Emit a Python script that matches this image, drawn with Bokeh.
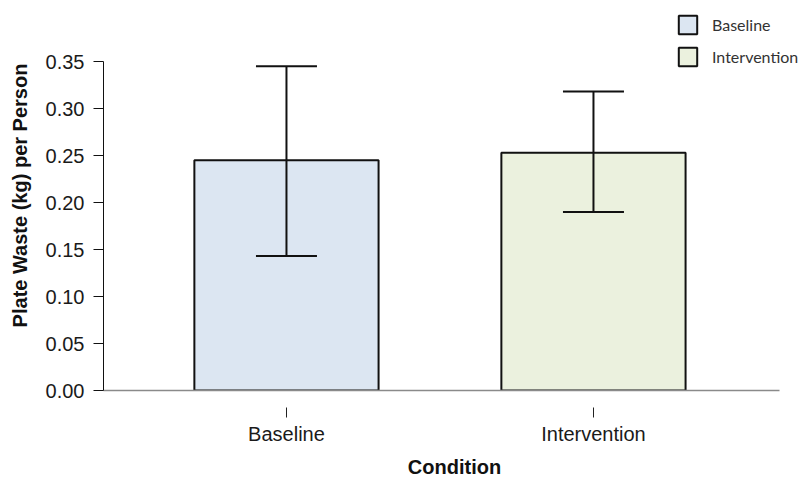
from bokeh.plotting import figure
from bokeh.models import (ColumnDataSource, Range1d, FixedTicker, Whisker, TeeHead,
                          Legend, LegendItem, CustomJSTickFormatter)
from bokeh.embed import file_html
from bokeh.resources import INLINE

categories = ["Baseline", "Intervention"]
means = [0.245, 0.253]
err_lower = [0.143, 0.190]
err_upper = [0.345, 0.318]
colors = ["#dce6f2", "#ebf1de"]
y_ticks = [0.0, 0.05, 0.10, 0.15, 0.20, 0.25, 0.30, 0.35]
y_max = 0.35

xs = list(range(len(categories)))
src = ColumnDataSource(dict(x=xs, top=means, lower=err_lower, upper=err_upper,
                            color=colors, cat=categories))

# frame spans the canvas top/right so the legend is not clipped;
# axis bounds keep the axis lines where the reference draws them
x_start, x_end_axis = -0.596, 1.606
px_per_unit = 307.0
x_end = x_start + 702 / px_per_unit
y_top = y_max * 390 / 329

p = figure(frame_width=702, frame_height=390, output_backend="svg", toolbar_location=None,
           x_range=Range1d(x_start, x_end), y_range=Range1d(0, y_top),
           min_border_left=103, min_border_right=0, min_border_top=0,
           min_border_bottom=87)
p.outline_line_color = None
p.xgrid.visible = False
p.ygrid.visible = False
p.background_fill_color = "white"
p.border_fill_color = "white"

bars = p.vbar(x="x", top="top", bottom=0, width=0.6, source=src,
              fill_color="color", line_color="#111111", line_width=2)

w = Whisker(source=src, base="x", lower="lower", upper="upper",
            line_color="#111111", line_width=2, level="overlay",
            upper_head=TeeHead(size=61, line_color="#111111", line_width=2),
            lower_head=TeeHead(size=61, line_color="#111111", line_width=2))
p.add_layout(w)

# y axis
ya = p.yaxis[0]
ya.bounds = (0, y_max)
ya.ticker = FixedTicker(ticks=y_ticks)
ya.formatter = CustomJSTickFormatter(code="return tick.toFixed(2);")
ya.axis_line_color = "#111111"
ya.major_tick_line_color = "#111111"
ya.major_tick_in = 0
ya.major_tick_out = 10
ya.minor_tick_line_color = None
ya.major_label_text_font = "Liberation Sans"
ya.major_label_text_font_size = "20px"
ya.major_label_text_color = "#1a1a1a"
ya.major_label_standoff = 9
ya.axis_label = "Plate Waste (kg) per Person"
ya.axis_label_text_font = "Liberation Sans"
ya.axis_label_text_font_size = "20px"
ya.axis_label_text_font_style = "bold"
ya.axis_label_text_color = "#111111"
ya.axis_label_standoff = 12

# x axis
xa = p.xaxis[0]
xa.bounds = (x_start, x_end_axis)
xa.ticker = FixedTicker(ticks=xs)
xa.major_label_overrides = {i: c for i, c in enumerate(categories)}
xa.axis_line_color = "#8a8a8a"
xa.axis_line_width = 1.5
xa.major_tick_line_color = "#222222"
xa.major_tick_in = -17
xa.major_tick_out = 27
xa.minor_tick_line_color = None
xa.major_label_text_font = "Liberation Sans"
xa.major_label_text_font_size = "20px"
xa.major_label_text_color = "#1a1a1a"
xa.major_label_standoff = 5
xa.axis_label = "Condition"
xa.axis_label_text_font = "Liberation Sans"
xa.axis_label_text_font_size = "20px"
xa.axis_label_text_font_style = "bold"
xa.axis_label_text_color = "#111111"
xa.axis_label_standoff = 8

legend = Legend(items=[LegendItem(label=categories[0], renderers=[bars], index=0),
                       LegendItem(label=categories[1], renderers=[bars], index=1)],
                location=(573, 322), orientation="vertical",
                glyph_width=23, glyph_height=23, spacing=9, padding=0, margin=0,
                label_standoff=13, border_line_color=None,
                background_fill_alpha=0,
                label_text_font="Lato", label_text_font_size="16px",
                label_text_color="#333333")
p.add_layout(legend, "center")

open("out.html", "w").write(file_html(p, INLINE))
